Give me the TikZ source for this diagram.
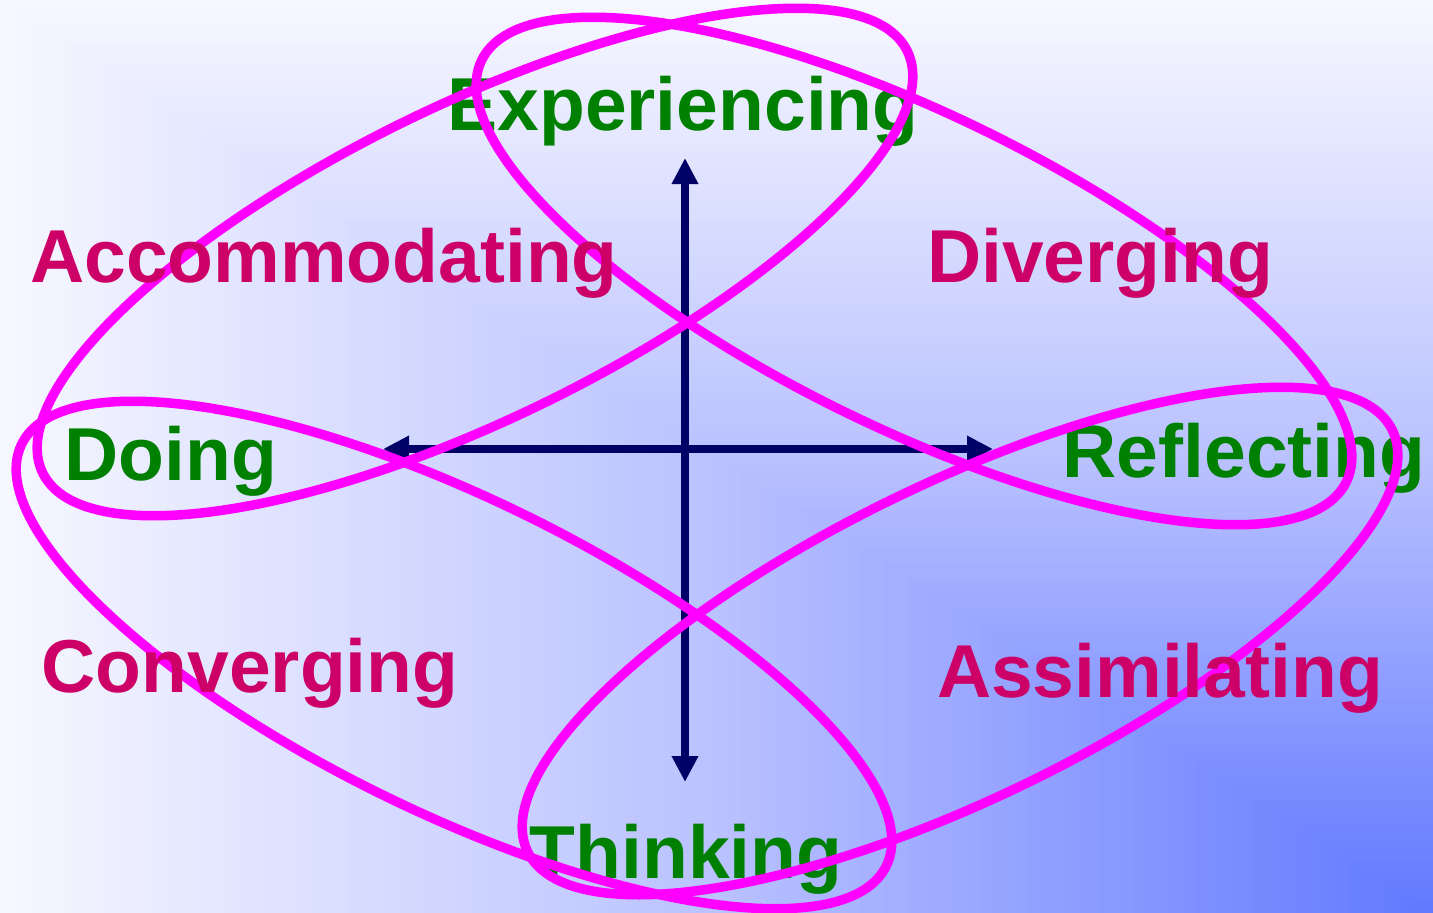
\documentclass[tikz,border=0pt]{standalone}
\usepackage{fontspec}
\setmainfont{Liberation Sans}
\usetikzlibrary{arrows.meta}
\definecolor{bgA}{HTML}{6078FF}
\definecolor{bgB}{HTML}{B9C1FF}
\definecolor{bgC}{HTML}{F6F7FF}
\definecolor{polegreen}{HTML}{008000}
\definecolor{stylered}{HTML}{CC0066}
\definecolor{loopmag}{HTML}{FF00FF}
\definecolor{axisnavy}{HTML}{000066}
\tikzset{
  pole/.style={text=polegreen, font=\fontsize{75}{80}\selectfont\bfseries, inner sep=0pt, anchor=base},
  stylelabel/.style={text=stylered, font=\fontsize{75}{80}\selectfont\bfseries, inner sep=0pt, anchor=base},
  loopline/.style={draw=loopmag, line width=9.5pt},
  axisline/.style={draw=axisnavy, line width=8pt, {Triangle[width=25pt,length=26pt]}-{Triangle[width=25pt,length=26pt]}}
}
\begin{document}
\begin{tikzpicture}[x=1pt,y=-1pt]
\useasboundingbox (0,0) rectangle (1433,913);
% background: rectangular gradient from bottom-right corner
\foreach \i in {0,...,59} {
  \pgfmathsetmacro\t{1-\i/120}
  \pgfmathsetmacro\p{(\t-0.5)*200}
  \fill[bgC!\p!bgB] ({1433*(1-\t)},{913*(1-\t)}) rectangle (1433,913);
}
\foreach \i in {60,...,119} {
  \pgfmathsetmacro\t{1-\i/120}
  \pgfmathsetmacro\p{\t*200}
  \fill[bgB!\p!bgA] ({1433*(1-\t)},{913*(1-\t)}) rectangle (1433,913);
}
% axes
\coordinate (vtop) at (685,158);
\coordinate (vbot) at (685,782);
\coordinate (hleft) at (383,449);
\coordinate (hright) at (993,449);
\draw[axisline] (vbot) -- (vtop);
\draw[axisline] (hleft) -- (hright);
% poles
\node[pole] (exp) at (683,130) {Experiencing};
\node[pole] (doing) at (171,480) {Doing};
\node[pole] (refl) at (1244,477) {Reflecting};
\node[pole] (think) at (686,878) {Thinking};
% loops
\draw[loopline, rotate around={26:(475,262)}] (475,262) ellipse [x radius=481, y radius=157];
\draw[loopline, rotate around={-26:(914,271)}] (914,271) ellipse [x radius=481, y radius=157];
\draw[loopline, rotate around={-26:(454,655)}] (454,655) ellipse [x radius=481, y radius=157];
\draw[loopline, rotate around={26:(960,641)}] (960,641) ellipse [x radius=481, y radius=157];
% learning styles
\node[stylelabel] (acc) at (324,282) {Accommodating};
\node[stylelabel] (div) at (1100,282) {Diverging};
\node[stylelabel] (conv) at (250,692) {Converging};
\node[stylelabel] (assim) at (1160,697) {Assimilating};
\end{tikzpicture}
\end{document}
